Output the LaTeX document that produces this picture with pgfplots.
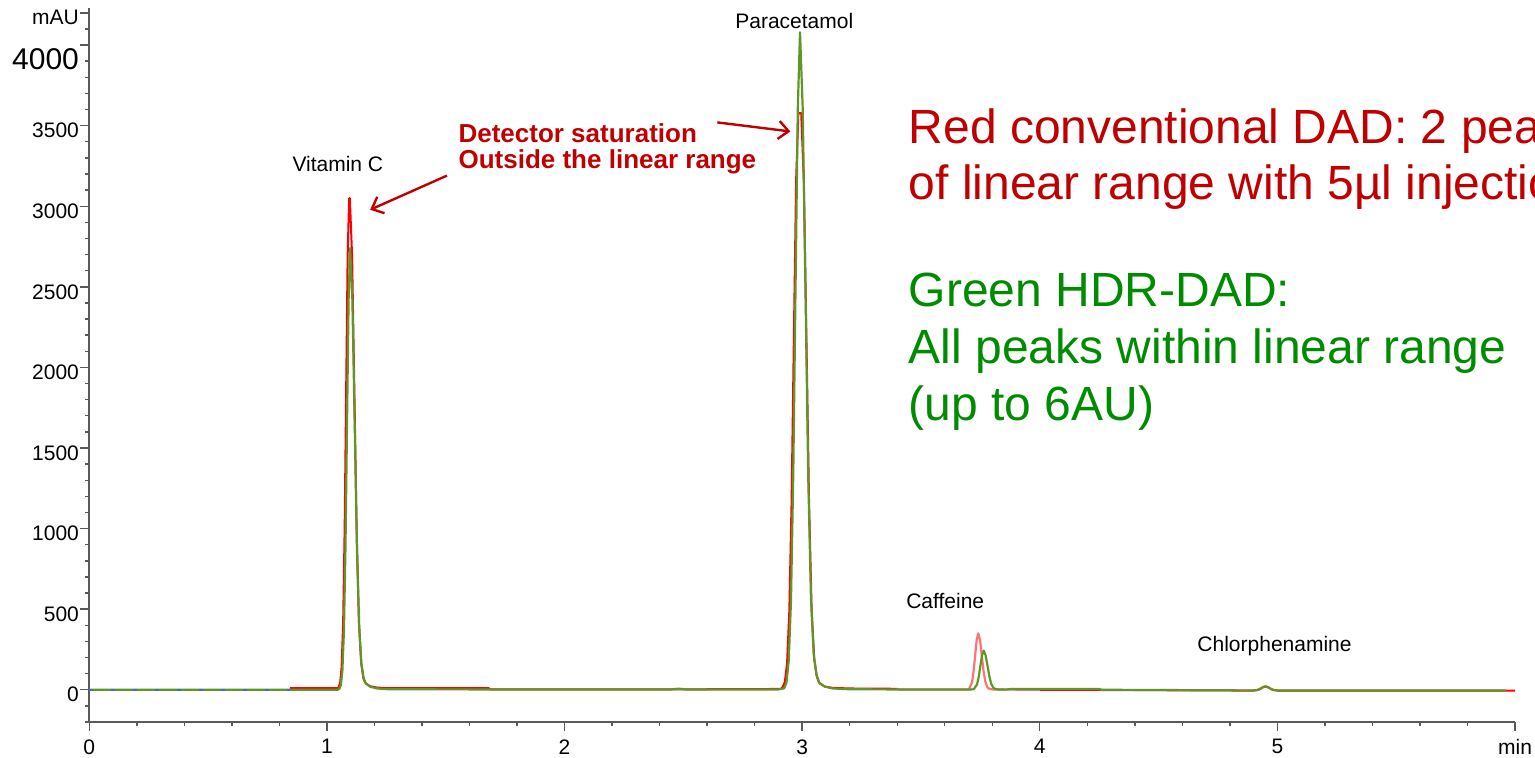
\documentclass[border=0pt]{standalone}
\usepackage{pgfplots}
\pgfplotsset{compat=1.18}
\usepackage{fontspec}
\setmainfont{Liberation Sans}
\usetikzlibrary{arrows.meta}
\definecolor{trgreen}{RGB}{96,150,40}
\definecolor{trred}{RGB}{255,0,0}
\definecolor{trpink}{RGB}{255,115,115}
\definecolor{trblue}{RGB}{60,110,200}
\definecolor{txtred}{RGB}{192,0,0}
\definecolor{txtgreen}{RGB}{0,140,0}
\definecolor{axgray}{RGB}{90,90,90}
\begin{document}
\begin{tikzpicture}
\useasboundingbox (-44.65pt,-18pt) rectangle (722.85pt,361pt);
\begin{axis}[
 at={(0pt,0pt)}, anchor=south west,
 scale only axis, width=712.85pt, height=357pt,
 xmin=0, xmax=6, ymin=-200, ymax=4230,
 axis lines=left, axis line style={-, axgray, line width=0.8pt},
 clip=false,
 tick align=outside, major tick length=4.5pt, minor tick length=2pt,
 tick style={axgray, line width=0.7pt},
 xtick={0,1,2,3,4,5,6}, xticklabels={0,1,2,3,4,5,min},
 minor xtick={0,0.2,...,6},
 ytick={0,500,...,4000},
 yticklabels={0,500,1000,1500,2000,2500,3000,3500,{\raisebox{-4.5pt}[10.7pt][0pt]{\fontsize{15}{15}\selectfont 4000}}},
 extra y ticks={4200}, extra y tick labels={mAU},
 minor ytick={-200,-100,...,4100},
 tick label style={font=\fontsize{10.5}{12}\selectfont, inner sep=0.5pt, text=black},
 xticklabel style={yshift=-3.5pt},
 yticklabel style={yshift=-2.5pt},
]
% red (conventional DAD), main part
\addplot[trred, line width=1pt, line join=round] coordinates {
(0.844,10) (1.045,10)
(1.0494,17) (1.0557,43) (1.062,144) (1.0683,420) (1.0746,998) (1.0809,1855) (1.0872,2691) (1.0935,3050) (1.0965,3050) (1.106,2691) (1.1155,1855) (1.125,998) (1.1345,420) (1.144,170) (1.1535,70) (1.163,40) (1.182,22) (1.21,14) (1.25,10) (1.68,10) (1.69,2) (2.57,3) (2.91,5)
(2.9175,16) (2.927,47) (2.9365,165) (2.946,490) (2.9555,1168) (2.965,2175) (2.9745,3157) (2.984,3578) (2.996,3578) (3.007,3157) (3.018,2175) (3.029,1168) (3.04,490) (3.051,190) (3.062,80) (3.073,40) (3.095,20) (3.128,12) (3.2,8) (3.4,6)
};
% red, caffeine part
\addplot[trpink, line width=1.1pt, line join=round] coordinates {
(3.4,6) (3.41,1) (3.70,1) (3.702,4) (3.715,47) (3.7215,114) (3.728,212) (3.7345,309) (3.741,350) (3.7485,309) (3.756,212) (3.7635,114) (3.771,50) (3.7785,18) (3.786,7) (3.801,2) (3.85,1) (4.0,0)
};
% red, tail part
\addplot[trred, line width=1pt, line join=round] coordinates {
(4.0,0) (4.88,-5) (4.899,-5) (4.916,-2) (4.925,3) (4.933,10) (4.9415,17) (4.95,20) (4.9585,17) (4.967,10) (4.975,3) (4.984,-2) (5.0,-5) (6.0,-5)
};
% green (HDR-DAD)
\addplot[trgreen, line width=1.1pt, line join=round] coordinates {
(0,0) (0.844,0) (1.045,0)
(1.0522,6) (1.0587,30) (1.0652,121) (1.0717,370) (1.0782,891) (1.0847,1663) (1.0912,2417) (1.0977,2740) (1.1072,2417) (1.1167,1663) (1.1262,891) (1.1357,400) (1.1452,160) (1.1547,70) (1.1642,38) (1.1832,18) (1.2117,8)
(1.26,3) (1.7,2) (2.45,2) (2.48,7) (2.51,2) (2.9,2)
(2.9245,9) (2.934,45) (2.9435,180) (2.953,551) (2.9625,1326) (2.972,2477) (2.9815,3599) (2.991,4080) (3.0025,3599) (3.014,2477) (3.0255,1326) (3.037,570) (3.0485,220) (3.06,95) (3.0715,45) (3.0945,20) (3.129,8)
(3.2,3) (3.4,2) (3.70,1)
(3.722,3) (3.736,33) (3.743,79) (3.75,147) (3.757,214) (3.764,243) (3.772,214) (3.78,150) (3.788,82) (3.796,36) (3.804,13) (3.812,5) (3.828,1)
(3.86,2) (3.88,5) (4.25,5) (4.26,0) (4.88,-4)
(4.899,-4) (4.916,-1) (4.925,4) (4.933,11) (4.9415,18) (4.95,21) (4.9585,18) (4.967,11) (4.975,4) (4.984,-1) (5.0,-4)
(5.96,-4)
};
% blue dashed start
\addplot[trblue, line width=0.9pt, dash pattern=on 2pt off 9pt] coordinates {(0,0) (0.844,0)};

% peak labels
\node[font=\fontsize{10.5}{12}\selectfont] at (axis cs:1.046,3259) {Vitamin C};
\node[font=\fontsize{10.5}{12}\selectfont] at (axis cs:2.967,4150) {Paracetamol};
\node[font=\fontsize{10.5}{12}\selectfont] at (axis cs:3.602,548) {Caffeine};
\node[font=\fontsize{10.5}{12}\selectfont] at (axis cs:4.988,274) {Chlorphenamine};

% saturation annotation
\node[anchor=base west, inner sep=0pt, text=txtred, font=\fontsize{13}{15}\selectfont\bfseries] at (axis cs:1.5524,3395) {Detector saturation};
\node[anchor=base west, inner sep=0pt, text=txtred, font=\fontsize{13}{15}\selectfont\bfseries] at (axis cs:1.5524,3235) {Outside the linear range};
\draw[txtred, line width=1.2pt, -{Straight Barb[length=5pt,width=9pt]}] (axis cs:1.5053,3190) -- (axis cs:1.1819,2978);
\draw[txtred, line width=1.2pt, -{Straight Barb[length=5pt,width=9pt]}] (axis cs:2.6429,3520) -- (axis cs:2.9503,3464);

% big texts
\node[anchor=base west, inner sep=0pt, text=txtred, font=\fontsize{24}{28}\selectfont] at (axis cs:3.4472,3390) {Red conventional DAD: 2 peaks out};
\node[anchor=base west, inner sep=0pt, text=txtred, font=\fontsize{24}{28}\selectfont] at (axis cs:3.4472,3041) {of linear range with 5µl injection};
\node[anchor=base west, inner sep=0pt, text=txtgreen, font=\fontsize{24}{28}\selectfont] at (axis cs:3.4472,2380) {Green HDR-DAD:};
\node[anchor=base west, inner sep=0pt, text=txtgreen, font=\fontsize{24}{28}\selectfont] at (axis cs:3.4472,2025) {All peaks within linear range};
\node[anchor=base west, inner sep=0pt, text=txtgreen, font=\fontsize{24}{28}\selectfont] at (axis cs:3.4472,1670) {(up to 6AU)};
\end{axis}
\end{tikzpicture}
\end{document}
